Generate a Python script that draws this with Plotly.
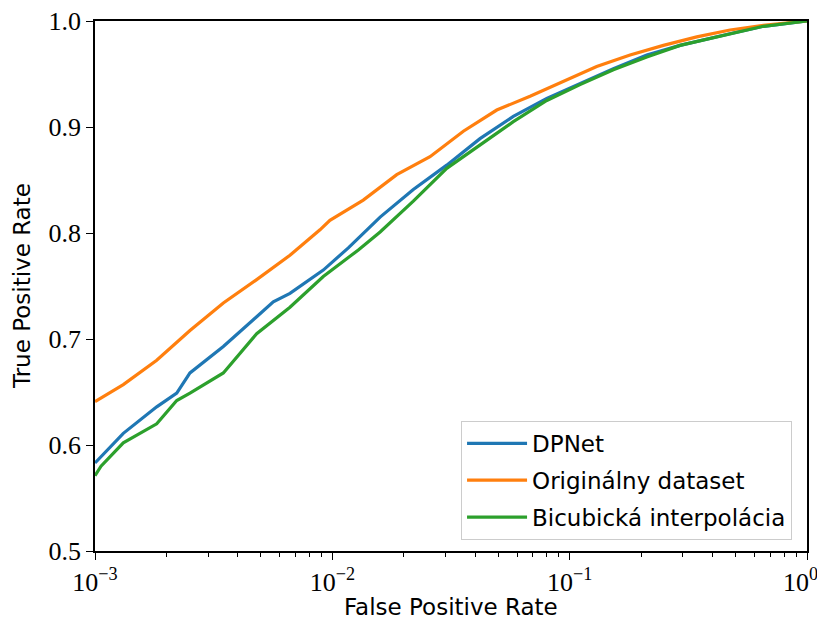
import plotly.graph_objects as go

# --- data ---
dpnet_fpr = [0.001, 0.001316, 0.00182, 0.00221, 0.002513, 0.003473, 0.0048, 0.00564, 0.00663,
             0.00916, 0.01168, 0.0159, 0.02194, 0.03034, 0.0419, 0.0579, 0.0801, 0.1106,
             0.1528, 0.2113, 0.2918, 0.4742, 0.655, 1.0]
dpnet_tpr = [0.583, 0.611, 0.636, 0.649, 0.668, 0.693, 0.721, 0.735, 0.743,
             0.765, 0.786, 0.815, 0.841, 0.864, 0.889, 0.910, 0.927, 0.941,
             0.955, 0.968, 0.977, 0.988, 0.995, 1.0]

orig_fpr = [0.001, 0.001316, 0.00182, 0.002513, 0.003473, 0.0048, 0.00663, 0.00887,
            0.00977, 0.0135, 0.01868, 0.0258, 0.03565, 0.0493, 0.0681, 0.0941, 0.130,
            0.1797, 0.2483, 0.3433, 0.4742, 0.655, 0.963, 1.0]
orig_tpr = [0.641, 0.657, 0.680, 0.708, 0.734, 0.756, 0.779, 0.803,
            0.812, 0.831, 0.855, 0.872, 0.896, 0.916, 0.929, 0.943, 0.957,
            0.968, 0.977, 0.985, 0.9915, 0.996, 0.999, 1.0]

bic_fpr = [0.001, 0.00106, 0.001316, 0.00182, 0.00221, 0.002513, 0.003473, 0.0048, 0.00663,
           0.00916, 0.01187, 0.01287, 0.0159, 0.02194, 0.03034, 0.0419, 0.0579, 0.0801,
           0.1106, 0.1528, 0.2113, 0.2918, 0.4742, 0.655, 1.0]
bic_tpr = [0.571, 0.580, 0.602, 0.620, 0.642, 0.649, 0.668, 0.705, 0.730,
           0.759, 0.778, 0.784, 0.801, 0.830, 0.861, 0.883, 0.905, 0.925,
           0.940, 0.954, 0.966, 0.977, 0.988, 0.995, 1.0]

x_tick_vals = [0.001, 0.01, 0.1, 1]
x_tick_text = ["10<sup>−3</sup>", "10<sup>−2</sup>", "10<sup>−1</sup>", "10<sup>0</sup>\u00a0\u00a0"]
y_tick_vals = [0.5, 0.6, 0.7, 0.8, 0.9, 1.0]
y_tick_text = ["0.5", "0.6", "0.7", "0.8", "0.9", "1.0"]

minor_vals = [m * 10 ** e for e in (-3, -2, -1) for m in range(2, 10)]

fig = go.Figure()
series = [
    ("DPNet", dpnet_fpr, dpnet_tpr, "#1f77b4"),
    ("Originálny dataset", orig_fpr, orig_tpr, "#ff7f0e"),
    ("Bicubická interpolácia", bic_fpr, bic_tpr, "#2ca02c"),
]
for name, xs, ys, col in series:
    fig.add_trace(go.Scatter(x=xs, y=ys, mode="lines", name=name, legendgroup=name,
                             line=dict(color=col, width=3.2)))

serif = "Liberation Serif"
sans = "DejaVu Sans"

fig.update_layout(
    width=817, height=613,
    margin=dict(l=87, r=18, t=13, b=70),
    plot_bgcolor="white", paper_bgcolor="white",
    showlegend=True,
    legend=dict(x=0.979, y=0.021, xanchor="right", yanchor="bottom",
                bordercolor="#cccccc", borderwidth=1, bgcolor="rgba(255,255,255,0.8)",
                font=dict(family=sans, size=23, color="black"),
                tracegroupgap=4, itemwidth=60),
    xaxis=dict(type="log", range=[-3, 0], tickvals=x_tick_vals, ticktext=x_tick_text,
               automargin=False, ticklabeloverflow="allow",
               ticks="outside", ticklen=7, tickwidth=1.2, tickcolor="black",
               showgrid=False, zeroline=False, showline=True, linecolor="black",
               linewidth=1.5, mirror=True,
               tickfont=dict(family=serif, size=26, color="black"),
               minor=dict(tickvals=minor_vals, ticks="outside", ticklen=4,
                          tickcolor="black", tickwidth=1, showgrid=False)),
    yaxis=dict(range=[0.5, 1.0], tickvals=y_tick_vals, ticktext=y_tick_text,
               automargin=False, ticklabeloverflow="allow",
               ticks="outside", ticklen=7, tickwidth=1.2, tickcolor="black",
               showgrid=False, zeroline=False, showline=True, linecolor="black",
               linewidth=1.5, mirror=True,
               tickfont=dict(family=serif, size=26, color="black")),
    annotations=[
        dict(text="False Positive Rate", x=0.5, y=0, xref="paper", yref="paper",
             xanchor="center", yanchor="middle", yshift=-56, showarrow=False,
             font=dict(family=sans, size=23, color="black")),
        dict(text="True Positive Rate", x=0, y=0.5, xref="paper", yref="paper",
             xanchor="center", yanchor="middle", xshift=-73, textangle=-90, showarrow=False,
             font=dict(family=sans, size=23, color="black")),
    ],
)

fig.write_html("out.html")
